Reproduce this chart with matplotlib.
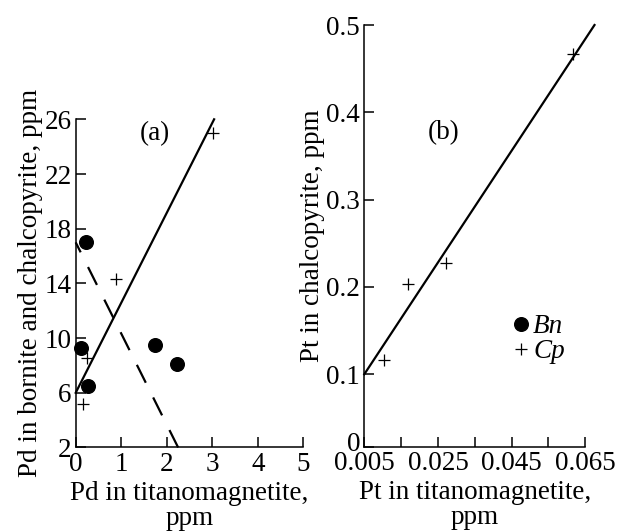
import matplotlib
matplotlib.use("Agg")
from matplotlib import pyplot as plt
from matplotlib.transforms import ScaledTranslation

plt.rcParams["font.family"] = ["Liberation Serif", "DejaVu Serif"]
FS = 19.5
plt.rcParams["font.size"] = FS

# panel (a): Pd
pd_bn_x = [0.22, 0.125, 0.27, 1.74, 2.23]
pd_bn_y = [17.05, 9.25, 6.52, 9.5, 8.08]
pd_cp_x = [3.02, 0.89, 0.25, 0.16]
pd_cp_y = [24.98, 14.3, 8.57, 5.16]
pd_fit_cp_x = [0.0, 3.04]
pd_fit_cp_y = [6.0, 26.0]
pd_fit_bn_x = [0.0, 2.25]
pd_fit_bn_y = [17.0, 2.0]
pd_xticks = [0, 1, 2, 3, 4, 5]
pd_yticks = [2, 6, 10, 14, 18, 22, 26]

# panel (b): Pt
pt_cp_x = [0.0617, 0.0273, 0.0170, 0.0104]
pt_cp_y = [0.467, 0.228, 0.203, 0.116]
pt_fit_x = [0.005, 0.0675]
pt_fit_y = [0.1, 0.5]
pt_xticks = [0.005, 0.015, 0.025, 0.035, 0.045, 0.055, 0.065]
pt_xlabels = ["0.005", "", "0.025", "", "0.045", "", "0.065"]
pt_ybottom = 0.0167
pt_yticks = [pt_ybottom, 0.1, 0.2, 0.3, 0.4, 0.5]
pt_ylabels = ["0", "0.1", "0.2", "0.3", "0.4", "0.5"]


def style_axes(ax):
    for side in ["top", "right"]:
        ax.spines[side].set_visible(False)
    for side in ["left", "bottom"]:
        ax.spines[side].set_linewidth(1.1)
    ax.tick_params(direction="in", length=7, width=1.1, labelsize=FS)
    ax.tick_params(axis="x", pad=3)
    ax.tick_params(axis="y", pad=3)


fig = plt.figure(figsize=(6.17, 5.31), dpi=100)

# (a)
ax = fig.add_axes([0.1227, 0.1573, 0.3689, 0.618])
style_axes(ax)
bn_a, = ax.plot(pd_bn_x, pd_bn_y, "o", color="black", markersize=9.8, clip_on=False)
cp_a, = ax.plot(pd_cp_x, pd_cp_y, "+", color="black", markersize=8, markeredgewidth=0.9,
                clip_on=False)
ax.plot(pd_fit_cp_x, pd_fit_cp_y, color="black", lw=1.6, clip_on=False)
ax.plot(pd_fit_bn_x, pd_fit_bn_y, color="black", lw=1.6, clip_on=False,
        linestyle=(4.0, (9.0, 7.4)))
ax.set_xlim(0, 5)
ax.set_ylim(2, 26)
ax.set_xticks(pd_xticks)
ax.set_yticks(pd_yticks)
ax.set_xlabel("Pd in titanomagnetite,\nppm", fontsize=FS, labelpad=3, linespacing=1.0)
ax.set_ylabel("Pd in bornite and chalcopyrite, ppm", fontsize=FS, labelpad=1)
ax.text(0.348, 0.955, "(a)", transform=ax.transAxes, ha="center", va="center",
        fontsize=FS)

# (b)
ax = fig.add_axes([0.5904, 0.1582, 0.3582, 0.7947])
style_axes(ax)
ax.plot(pt_cp_x, pt_cp_y, "+", color="black", markersize=8, markeredgewidth=0.9,
        clip_on=False)
ax.plot(pt_fit_x, pt_fit_y, color="black", lw=1.6, clip_on=False)
ax.set_xlim(0.005, 0.065)
ax.set_ylim(pt_ybottom, 0.5)
ax.set_xticks(pt_xticks)
ax.set_xticklabels(pt_xlabels)
ax.set_yticks(pt_yticks)
ax.set_yticklabels(pt_ylabels)
# the "0" sits a little higher in the original
zero = ax.get_yticklabels()[0]
zero.set_transform(zero.get_transform() + ScaledTranslation(0, 4 / 72, fig.dpi_scale_trans))
ax.set_xlabel("Pt in titanomagnetite,\nppm", fontsize=FS, labelpad=3, linespacing=1.0)
ax.set_ylabel("Pt in chalcopyrite, ppm", fontsize=FS, labelpad=1)
ax.text(0.361, 0.745, "(b)", transform=ax.transAxes, ha="center", va="center",
        fontsize=FS)
ax.legend([bn_a, cp_a], ["Bn", "Cp"], loc="upper left", bbox_to_anchor=(0.664, 0.315),
          frameon=False, borderpad=0, borderaxespad=0, handlelength=0.7,
          handletextpad=0.12, labelspacing=0.0, prop={"style": "italic", "size": FS})

plt.savefig("out.png", dpi=100)
